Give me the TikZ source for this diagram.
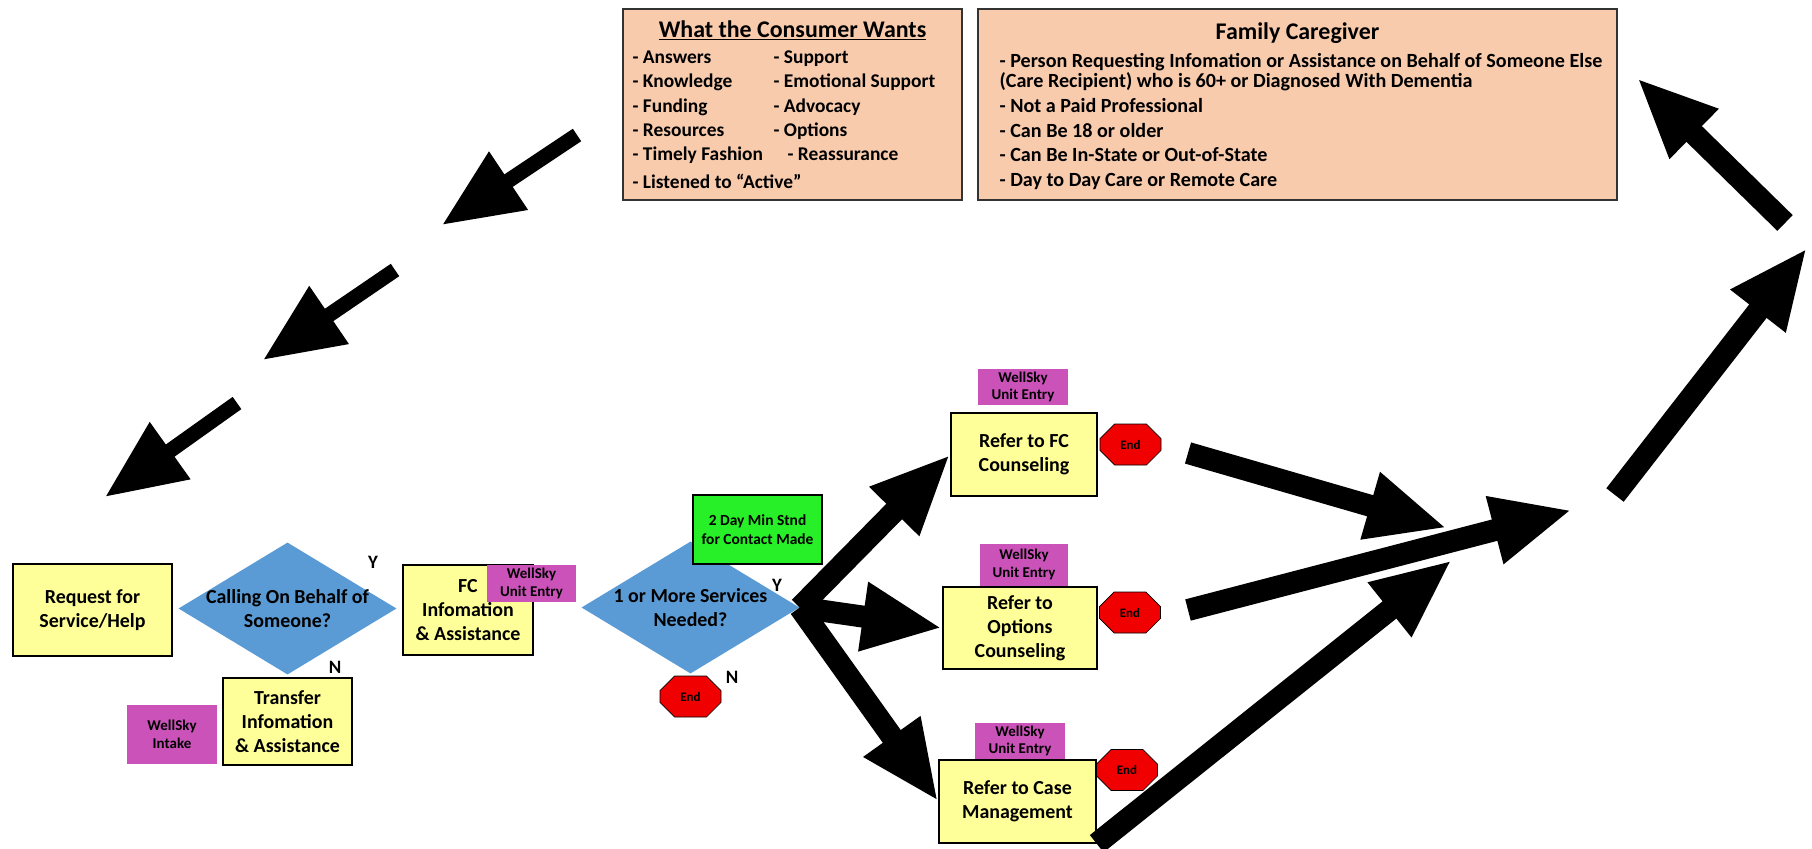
\documentclass[tikz,border=0pt]{standalone}
\usepackage{fontspec}
\setmainfont{Carlito}
\usetikzlibrary{shapes.geometric,shapes.misc,arrows.meta,positioning}

\definecolor{peach}{RGB}{248,203,173}
\definecolor{boxyellow}{RGB}{255,255,153}
\definecolor{wellsky}{RGB}{202,82,184}
\definecolor{decblue}{RGB}{91,155,213}
\definecolor{mingreen}{RGB}{40,240,40}
\definecolor{endred}{RGB}{240,0,0}

\newcommand\boxfont{\fontsize{20}{24}\selectfont\bfseries}
\newcommand\listfont{\fontsize{19.5}{24.5}\selectfont\bfseries}
\newcommand\famfont{\fontsize{20.2}{24.8}\selectfont\bfseries}
\newcommand\headfont{\fontsize{24}{27}\selectfont\bfseries}
\newcommand\tagfont{\fontsize{15}{17.5}\selectfont\bfseries}
\newcommand\stopfont{\fontsize{13}{15}\selectfont\bfseries}
\newcommand\ynfont{\fontsize{19}{22}\selectfont\bfseries}

\begin{document}
\begin{tikzpicture}[x=1bp, y=-1bp,
    yellowbox/.style={rectangle, draw=black, line width=1.4bp, fill=boxyellow, inner sep=0pt, align=center, font=\boxfont},
    tagbox/.style={rectangle, fill=wellsky, inner sep=0pt, align=center, font=\tagfont},
    greenbox/.style={rectangle, draw=black, line width=1.4bp, fill=mingreen, inner sep=0pt, align=center, font=\fontsize{15.5}{19}\selectfont\bfseries},
    decision/.style={diamond, fill=decblue, minimum width=218bp, minimum height=132bp, inner sep=0pt},
    dectext/.style={align=center, font=\boxfont, inner sep=0pt},
    endstop/.style={chamfered rectangle, chamfered rectangle xsep=15bp, chamfered rectangle ysep=10bp, fill=endred, draw=black, line width=0.6bp, minimum width=61bp, minimum height=41bp, inner sep=0pt, font=\stopfont},
    peachbox/.style={rectangle, draw=black!80, line width=1.2bp, fill=peach},
    headtext/.style={font=\headfont, inner sep=0pt, text height=17bp, text depth=5bp},
    listtext/.style={font=\listfont, inner sep=0pt},
    yn/.style={font=\ynfont, inner sep=0pt},
    bigarrow/.style={line width=22bp, -{Triangle[length=80bp, width=64bp]}},
    thinarrow/.style={line width=15bp, -{Triangle[length=80bp, width=66bp]}}
]
    \useasboundingbox (0,0) rectangle (1812,849);

    % What the consumer wants
    \node[peachbox, minimum width=339bp, minimum height=191bp] (wants) at (792.5,104.5) {};
    \node[headtext, below=12bp of wants.north] (wantstitle) {\underline{What the Consumer Wants}};
    \node[listtext, below right=37.5bp and 10bp of wants.north west] (wantslist) {%
        \begin{tabular}{@{}p{141bp}@{}l@{}}
        - Answers & - Support\\
        - Knowledge & - Emotional Support\\
        - Funding & - Advocacy\\
        - Resources & - Options\\
        - Timely Fashion & \hspace*{14bp}- Reassurance\\[3.5bp]
        \multicolumn{2}{@{}l@{}}{- Listened to “Active”}
        \end{tabular}};

    % Family caregiver
    \node[peachbox, minimum width=639bp, minimum height=191bp] (family) at (1297.5,104.5) {};
    \node[headtext, below=14bp of family.north] (familytitle) {Family Caregiver};
    \node[listtext, font=\famfont, below right=42bp and 22bp of family.north west] (familylist) {%
        \begin{tabular}{@{}l@{}}
        - Person Requesting Infomation or Assistance on Behalf of Someone Else\\[-5bp]
        (Care Recipient) who is 60+ or Diagnosed With Dementia\\
        - Not a Paid Professional\\
        - Can Be 18 or older\\
        - Can Be In-State or Out-of-State\\
        - Day to Day Care or Remote Care
        \end{tabular}};

    % Intake
    \node[yellowbox, minimum width=159bp, minimum height=92bp] (request) at (92.5,610) {Request for\\Service/Help};
    \node[decision, label={[dectext]center:Calling On Behalf of\\Someone?}] (calling) at (287.5,608.5) {};
    \node[yn] (callyes) at (373,562) {Y};
    \node[yn] (callno) at (335,667) {N};
    \node[yellowbox, minimum width=129bp, minimum height=87bp] (transfer) at (287.5,721.5) {Transfer\\Infomation\\\& Assistance};
    \node[tagbox, minimum width=90bp, minimum height=59bp] (intake) at (172,734.5) {WellSky\\Intake};
    \node[yellowbox, minimum width=130bp, minimum height=90bp] (fcinfo) at (468,610) {FC\\Infomation\\\& Assistance};
    \node[tagbox, minimum width=89bp, minimum height=37bp] (fcentry) at (531.5,583.5) {WellSky\\Unit Entry};

    % Services decision
    \node[decision, label={[dectext]center:1 or More Services\\Needed?}] (services) at (690.5,607.5) {};
    \node[greenbox, minimum width=129bp, minimum height=69bp] (contact) at (757.5,529.5) {2 Day Min Stnd\\for Contact Made};
    \node[yn] (servyes) at (777,585) {Y};
    \node[yn] (servno) at (732,677) {N};
    \node[endstop] (servend) at (690.5,696.5) {End};

    % Referrals
    \node[yellowbox, minimum width=146bp, minimum height=83bp] (fccoun) at (1024,454.5) {Refer to FC\\Counseling};
    \node[tagbox, minimum width=90bp, minimum height=36bp] (fccounentry) at (1023,387) {WellSky\\Unit Entry};
    \node[endstop] (fccounend) at (1130.5,444.5) {End};
    \node[yellowbox, minimum width=154bp, minimum height=82bp] (options) at (1020,628) {Refer to\\Options\\Counseling};
    \node[tagbox, minimum width=88bp, minimum height=42bp] (optionsentry) at (1024,564.5) {WellSky\\Unit Entry};
    \node[endstop] (optionsend) at (1130,612.5) {End};
    \node[yellowbox, minimum width=157bp, minimum height=83bp] (casemgmt) at (1017.5,801.5) {Refer to Case\\Management};
    \node[tagbox, minimum width=90bp, minimum height=36bp] (casementry) at (1020,741) {WellSky\\Unit Entry};
    \node[endstop] (caseend) at (1127,770) {End};

    % Arrows out of the decision
    \draw[bigarrow] (services.east) -- (fccoun.west);
    \draw[bigarrow] (services.east) -- (options.west);
    \draw[bigarrow] (services.east) -- (casemgmt.west);

    % Arrows back to the caregiver
    \coordinate (fcfrom) at (1188,453);
    \coordinate (fcto) at (1447,528);
    \coordinate (optfrom) at (1188,610);
    \coordinate (optto) at (1572,510);
    \coordinate (caseto) at (1452,560);
    \draw[bigarrow] (fcfrom) -- (fcto);
    \draw[bigarrow] (casemgmt.south east) -- (caseto);
    \draw[bigarrow] (optfrom) -- (optto);
    \coordinate (upfrom) at (1615,495);
    \coordinate (upto) at (1807,248);
    \coordinate (backfrom) at (1785,223);
    \coordinate (backto) at (1637,78);
    \draw[bigarrow] (upfrom) -- (upto);
    \draw[bigarrow] (backfrom) -- (backto);

    % Arrows down to the request
    \foreach \i/\sx/\sy/\ex/\ey in {1/577/135/442/225, 2/395/270/263/360, 3/237/403/105/497} {
        \coordinate (down\i a) at (\sx,\sy);
        \coordinate (down\i b) at (\ex,\ey);
        \draw[thinarrow] (down\i a) -- (down\i b);
    }
\end{tikzpicture}
\end{document}
